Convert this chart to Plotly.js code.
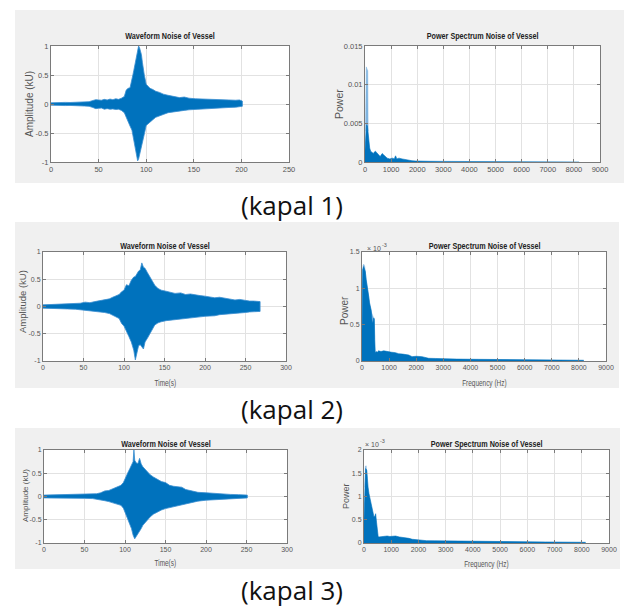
<!DOCTYPE html>
<html><head><meta charset="utf-8">
<script src="https://cdn.plot.ly/plotly-3.0.1.min.js"></script>
<style>
html,body{margin:0;padding:0;background:#fff}#chart{width:624px;height:607px}
.squeeze{transform-box:fill-box;transform-origin:center;transform:scaleX(0.76)}
</style>
</head><body><div id="chart"></div>
<script>
// ---------------- DATA ----------------
// Kapal 1 waveform envelope (time s, amplitude kU)
const t1 = [0,5,10,15,20,25,30,35,40,44,47,50,53,56,59,62,65,68,71,74,77,79,81,83,85,86,87,88,89,90,91,92,93,94,95,96,97,98,100,102,104,107,110,114,118,123,128,135,140,145,152,158,163,170,175,180,187,194,198,201];
const up1 = [0.02,0.025,0.022,0.028,0.026,0.03,0.028,0.035,0.04,0.06,0.075,0.07,0.065,0.08,0.07,0.085,0.075,0.09,0.08,0.1,0.13,0.24,0.27,0.28,0.4,0.5,0.58,0.66,0.75,0.85,0.93,1.0,0.97,0.9,0.85,0.72,0.6,0.5,0.34,0.3,0.27,0.25,0.22,0.2,0.17,0.15,0.13,0.11,0.12,0.1,0.09,0.085,0.08,0.075,0.07,0.065,0.06,0.065,0.07,0.05];
const lo1 = [-0.02,-0.025,-0.022,-0.027,-0.025,-0.03,-0.028,-0.035,-0.04,-0.06,-0.08,-0.075,-0.07,-0.09,-0.08,-0.09,-0.085,-0.095,-0.09,-0.11,-0.15,-0.22,-0.3,-0.38,-0.45,-0.52,-0.6,-0.68,-0.78,-0.9,-0.98,-0.95,-0.89,-0.8,-0.72,-0.66,-0.6,-0.52,-0.37,-0.33,-0.31,-0.27,-0.23,-0.2,-0.18,-0.15,-0.13,-0.12,-0.11,-0.1,-0.095,-0.09,-0.08,-0.075,-0.07,-0.065,-0.06,-0.055,-0.05,-0.04];

// Kapal 2 waveform envelope
const t2 = [0,10,20,30,40,46,52,58,64,70,76,82,86,90,94,97,100,103,106,109,112,114,116,118,120,122,124,126,129,132,135,138,142,146,152,158,163,170,176,182,188,194,200,206,212,218,224,230,237,243,250,255,260,264,268];
const up2 = [0.03,0.035,0.04,0.045,0.05,0.06,0.08,0.07,0.09,0.11,0.12,0.14,0.17,0.2,0.22,0.27,0.3,0.4,0.38,0.48,0.54,0.55,0.6,0.65,0.67,0.8,0.72,0.7,0.62,0.55,0.47,0.39,0.33,0.3,0.28,0.26,0.24,0.25,0.22,0.23,0.21,0.2,0.19,0.18,0.16,0.17,0.15,0.14,0.12,0.13,0.11,0.1,0.1,0.09,0.09];
const lo2 = [-0.03,-0.035,-0.04,-0.045,-0.05,-0.06,-0.07,-0.075,-0.085,-0.1,-0.11,-0.13,-0.16,-0.19,-0.22,-0.31,-0.36,-0.46,-0.55,-0.65,-0.8,-0.98,-0.85,-0.72,-0.7,-0.74,-0.78,-0.65,-0.58,-0.52,-0.42,-0.34,-0.3,-0.28,-0.26,-0.25,-0.23,-0.23,-0.21,-0.21,-0.2,-0.19,-0.18,-0.17,-0.17,-0.15,-0.14,-0.13,-0.13,-0.12,-0.11,-0.1,-0.1,-0.09,-0.09];

// Kapal 3 waveform envelope
const t3 = [0,10,20,30,40,50,60,65,70,75,80,85,90,95,98,100,102,104,106,108,110,111,112,114,116,118,120,122,125,128,131,135,140,145,150,155,160,165,170,175,180,185,190,200,210,220,230,240,251];
const up3 = [0.03,0.035,0.04,0.035,0.04,0.04,0.045,0.06,0.08,0.12,0.13,0.17,0.2,0.24,0.3,0.39,0.45,0.53,0.6,0.68,0.75,1.0,0.78,0.72,0.71,0.82,0.7,0.64,0.58,0.53,0.47,0.42,0.37,0.32,0.3,0.24,0.22,0.21,0.2,0.15,0.13,0.1,0.09,0.08,0.065,0.06,0.045,0.04,0.03];
const lo3 = [-0.03,-0.035,-0.04,-0.035,-0.04,-0.04,-0.045,-0.05,-0.07,-0.09,-0.11,-0.14,-0.16,-0.19,-0.25,-0.33,-0.42,-0.51,-0.6,-0.69,-0.83,-0.87,-0.91,-0.85,-0.8,-0.74,-0.69,-0.62,-0.55,-0.5,-0.44,-0.38,-0.33,-0.29,-0.26,-0.24,-0.22,-0.19,-0.17,-0.15,-0.13,-0.12,-0.1,-0.08,-0.065,-0.055,-0.045,-0.04,-0.03];

// Power spectra (Hz, power). Kapal 1 in raw units, kapal 2 and 3 in units of 10^-3
const f1 = [0,30,60,90,120,150,180,216,250,280,320,360,400,450,500,530,580,620,660,720,780,850,950,1050,1120,1170,1220,1300,1420,1550,1680,1800,1930,2100,2500,3000,4000,5000,6000,7000,8000,8200];
const p1 = [0.0015,0.0045,0.0048,0.0047,0.0035,0.0024,0.0018,0.0014,0.0013,0.0012,0.0011,0.0013,0.0014,0.0012,0.0009,0.0009,0.0007,0.001,0.0011,0.0009,0.0007,0.0005,0.0004,0.0005,0.0004,0.0008,0.0004,0.0005,0.0004,0.0003,0.0002,0.00016,0.00013,0.0001,0.00009,0.00008,0.00008,0.00007,0.00007,0.00006,0.00006,0];
const f1peak = [20,35,50,80,105,120];
const p1peak = [0.004,0.0121,0.0123,0.012,0.0118,0.004];

const f2 = [0,25,60,100,123,150,185,215,246,275,308,340,370,400,430,455,470,490,520,560,615,700,800,900,1000,1100,1230,1350,1500,1600,1720,1845,2000,2210,2460,2700,3075,3500,4300,5000,5535,6000,6765,7500,8180];
const p2 = [0.4,1.26,1.3,1.26,1.23,1.12,1.05,0.95,0.89,0.8,0.75,0.7,0.55,0.52,0.59,0.58,0.3,0.11,0.13,0.12,0.14,0.13,0.14,0.13,0.12,0.12,0.115,0.1,0.095,0.09,0.083,0.06,0.065,0.06,0.037,0.035,0.028,0.026,0.023,0.02,0.018,0.017,0.014,0.012,0.01];
const f2peak = [20,40,70,100,130,200,270,300,320,420,440,460];
const p2peak = [1.0,1.32,1.33,1.3,1.2,1.0,0.8,0.78,0.7,0.6,0.6,0.3];

const f3 = [0,37,60,100,122,150,184,215,245,275,306,340,367,400,428,460,490,520,550,650,750,850,950,1050,1160,1300,1400,1530,1650,1775,1900,2020,2300,2600,3000,3500,4220,5000,5450,6000,6670,7500,8140];
const p3 = [0.5,1.5,1.6,1.57,1.32,1.2,1.06,0.98,0.92,0.8,0.7,0.62,0.56,0.58,0.63,0.45,0.17,0.14,0.13,0.14,0.15,0.15,0.14,0.15,0.15,0.13,0.125,0.115,0.1,0.08,0.07,0.058,0.05,0.047,0.043,0.04,0.036,0.032,0.029,0.026,0.022,0.019,0.015];
const f3peak = [30,50,80,110];
const p3peak = [1.2,1.65,1.66,1.4];

// Tick labels
const ampTicks = [-1,-0.5,0,0.5,1];
const ampLabels = ['-1','-0.5','0','0.5','1'];
const freqTicks = [0,1000,2000,3000,4000,5000,6000,7000,8000,9000];
const time1Ticks = [0,50,100,150,200,250];
const time2Ticks = [0,50,100,150,200,250,300];
const pow1Ticks = [0,0.005,0.01,0.015];
const pow1Labels = ['0','0.005','0.01','0.015'];
const pow2Ticks = [0,0.5,1,1.5];
const pow3Ticks = [0,0.5,1,1.5,2];

const captions = ['(kapal 1)','(kapal 2)','(kapal 3)'];
const waveTitle = 'Waveform Noise of Vessel';
const specTitle = 'Power Spectrum Noise of Vessel';

// ---------------- LAYOUT ----------------
const W = 624, H = 607;
const X = v => v / W, Y = v => 1 - v / H;
const BLUE = '#0072BD', LIGHT = '#7fb4e0';
const SANS = 'Liberation Sans, Arial, sans-serif';

const P = [
  {x0:51, x1:289, y0:46,  y1:162},
  {x0:365,x1:600, y0:46,  y1:162},
  {x0:43, x1:286, y0:252, y1:361},
  {x0:362,x1:606, y0:252, y1:361},
  {x0:44, x1:287, y0:450, y1:543},
  {x0:364,x1:609, y0:450, y1:543}
];
const bands = [[15,624,10,183],[15,619,222,388],[15,620,428,569]];

function envTrace(t, up, lo, i) {
  const xs = t.concat(t.slice().reverse());
  const ys = up.concat(lo.slice().reverse());
  return {x: xs, y: ys, xaxis: 'x'+(i===1?'':i), yaxis: 'y'+(i===1?'':i),
    type: 'scatter', mode: 'lines', fill: 'toself', fillcolor: BLUE,
    line: {color: '#3a8ed0', width: 0.8}, hoverinfo: 'skip', showlegend: false};
}
function specTrace(f, p, i, color, lw) {
  return {x: f, y: p, xaxis: 'x'+i, yaxis: 'y'+i, type: 'scatter', mode: 'lines',
    fill: 'tozeroy', fillcolor: color, line: {color: color, width: lw},
    hoverinfo: 'skip', showlegend: false};
}

const data = [
  envTrace(t1, up1, lo1, 1),
  specTrace(f1peak, p1peak, 2, LIGHT, 0.5),
  specTrace(f1, p1, 2, BLUE, 0.6),
  envTrace(t2, up2, lo2, 3),
  specTrace(f2peak, p2peak, 4, LIGHT, 0.5),
  specTrace(f2, p2, 4, BLUE, 0.6),
  envTrace(t3, up3, lo3, 5),
  specTrace(f3peak, p3peak, 6, LIGHT, 0.5),
  specTrace(f3, p3, 6, BLUE, 0.6)
];

function axis(dom, range, tv, tt, fs) {
  return {
    domain: dom, range: range, tickvals: tv, ticktext: tt || tv.map(String),
    showgrid: true, gridcolor: '#e2e2e2', gridwidth: 1,
    showline: true, linecolor: '#7a7a7a', linewidth: 1, mirror: 'ticks',
    ticks: 'inside', ticklen: 3, tickcolor: '#7a7a7a', tickwidth: 1,
    zeroline: false, fixedrange: true,
    tickfont: {family: SANS, size: fs, color: '#555'}
  };
}

const layout = {
  width: W, height: H, margin: {l:0, r:0, t:0, b:0},
  paper_bgcolor: '#ffffff', plot_bgcolor: 'rgba(0,0,0,0)',
  showlegend: false, shapes: [], annotations: []
};

const xr = [[0,250],[0,9000],[0,300],[0,9000],[0,300],[0,9000]];
const yr = [[-1,1],[0,0.015],[-1,1],[0,1.5],[-1,1],[0,2]];
const xt = [time1Ticks, freqTicks, time2Ticks, freqTicks, time2Ticks, freqTicks];
const yt = [ampTicks, pow1Ticks, ampTicks, pow2Ticks, ampTicks, pow3Ticks];
const ytl = [ampLabels, pow1Labels, ampLabels, null, ampLabels, null];
const fsz = [7.5, 7.5, 7, 7, 7, 7];

for (let i = 0; i < 6; i++) {
  const p = P[i], n = i + 1, s = n === 1 ? '' : n;
  layout['xaxis'+s] = Object.assign(axis([X(p.x0), X(p.x1)], xr[i], xt[i], null, fsz[i]), {anchor: 'y'+s});
  layout['yaxis'+s] = Object.assign(axis([Y(p.y1), Y(p.y0)], yr[i], yt[i], ytl[i], fsz[i]), {anchor: 'x'+s});
}

// gray figure bands and white axes areas
bands.forEach(b => layout.shapes.push({type:'rect', xref:'paper', yref:'paper', layer:'below',
  x0:X(b[0]), x1:X(b[1]), y0:Y(b[3]), y1:Y(b[2]), fillcolor:'#f0f0f0', line:{width:0}}));
P.forEach(p => layout.shapes.push({type:'rect', xref:'paper', yref:'paper', layer:'below',
  x0:X(p.x0), x1:X(p.x1), y0:Y(p.y1), y1:Y(p.y0), fillcolor:'#ffffff', line:{width:0}}));

function ann(text, x, y, font, opts) {
  layout.annotations.push(Object.assign({text: text, x: X(x), y: Y(y), xref:'paper', yref:'paper',
    showarrow:false, xanchor:'center', yanchor:'middle', font: font}, opts || {}));
}
// subplot titles
const titleY = [36, 36, 245, 245, 443, 443];
for (let i = 0; i < 6; i++) {
  const p = P[i];
  ann('<b>' + (i % 2 === 0 ? waveTitle : specTitle) + '</b>', (p.x0 + p.x1) / 2, titleY[i],
      {family: SANS, size: 9.5, color: '#222'});
}
// y axis titles
ann('Amplitude (kU)', 30, 104, {family: SANS, size: 10, color: '#555'}, {textangle:-90});
ann('Power', 339, 104, {family: SANS, size: 10.5, color: '#555'}, {textangle:-90});
ann('Amplitude (kU)', 23, 302, {family: SANS, size: 9.5, color: '#555'}, {textangle:-90});
ann('Power', 344, 311, {family: SANS, size: 10, color: '#555'}, {textangle:-90});
ann('Amplitude (kU)', 25, 496, {family: SANS, size: 8, color: '#555'}, {textangle:-90});
ann('Power', 346, 496, {family: SANS, size: 9, color: '#555'}, {textangle:-90});
// x axis titles
ann('Time(s)', 165, 383, {family: SANS, size: 8.5, color: '#555'});
ann('Frequency (Hz)', 484, 383, {family: SANS, size: 8.5, color: '#555'});
ann('Time(s)', 165, 563, {family: SANS, size: 8.5, color: '#555'});
ann('Frequency (Hz)', 486, 564, {family: SANS, size: 8.5, color: '#555'});
// exponent labels (base and raised exponent)
ann('× 10', 365, 248, {family: SANS, size: 7, color: '#555'}, {xanchor:'left'});
ann('-3', 380, 245, {family: SANS, size: 5.5, color: '#555'}, {xanchor:'left'});
ann('× 10', 363, 444, {family: SANS, size: 7, color: '#555'}, {xanchor:'left'});
ann('-3', 378, 441, {family: SANS, size: 5.5, color: '#555'}, {xanchor:'left'});
// captions
const capY = [205, 409, 590];
captions.forEach((c, i) => ann(c, 292, capY[i], {family: 'Open Sans, Noto Sans, sans-serif', size: 26, color: '#111'}));

Plotly.newPlot('chart', data, layout, {staticPlot: true, displayModeBar: false}).then(gd => {
  // narrow the MATLAB-style condensed titles
  gd.querySelectorAll('.annotation-text').forEach(el => {
    const t = el.textContent;
    if (t === waveTitle || t === specTitle || t === 'Time(s)' || t === 'Frequency (Hz)') {
      el.classList.add('squeeze');
    }
  });
});
</script></body></html>
